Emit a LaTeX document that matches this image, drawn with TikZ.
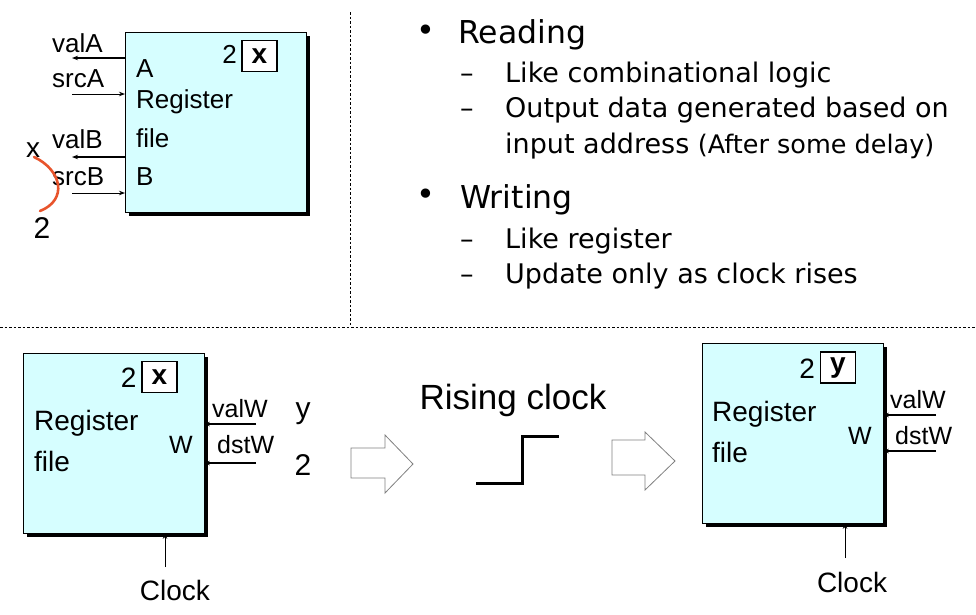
\documentclass[tikz,border=0pt]{standalone}
\usepackage{fontspec}
\setmainfont{Liberation Sans}
\newfontfamily\bulfont{DejaVu Sans}
\usetikzlibrary{arrows.meta,shadows}
\definecolor{regfill}{RGB}{214,254,255}
\definecolor{curvered}{RGB}{232,84,44}
\tikzset{
  regbox/.style={draw=black, line width=0.8pt, fill=regfill, minimum width=181pt, minimum height=180pt,
    anchor=north west, inner sep=0pt, drop shadow={shadow xshift=3.5pt, shadow yshift=-3.5pt, opacity=1, fill=black}},
  valbox/.style={draw=black, line width=1.2pt, fill=white, minimum width=35pt, minimum height=31pt, inner sep=0pt,
    font=\fontsize{28}{30}\selectfont\bfseries},
  lbl/.style={inner sep=0pt, anchor=base west, font=\fontsize{26}{30}\selectfont},
  blbl/.style={inner sep=0pt, anchor=base west, font=\fontsize{28}{32}\selectfont},
  wlbl/.style={inner sep=0pt, anchor=base west, font=\fontsize{25}{30}\selectfont},
  mainitem/.style={inner sep=0pt, anchor=base west, font=\bulfont\fontsize{31.5}{34}\selectfont},
  subitem/.style={inner sep=0pt, anchor=base west, font=\bulfont\fontsize{27}{30}\selectfont},
  bulletmark/.style={inner sep=0pt, font=\bulfont\fontsize{32}{34}\selectfont},
  outarrow/.style={line width=1.8pt, -{Stealth[length=6pt,width=4.5pt]}},
  inarrow/.style={line width=1pt, -{Stealth[length=6pt,width=4.5pt]}},
  wirearrow/.style={-{Stealth[length=5pt,width=4.5pt]}},
  sep/.style={line width=0.8pt, dash pattern=on 2.5pt off 2pt},
  hollow/.style={draw=black!50, line width=0.8pt, fill=white},
}
\begin{document}
\begin{tikzpicture}[x=1pt,y=-1pt]
\useasboundingbox (0,0) rectangle (976,614);

% separators
\draw[sep] (350,12) -- (350,325);
\draw[sep] (0,327) -- (976,327);

% ---------- top-left register file ----------
\node[regbox] (rf1) at (125,32) {};
\node[valbox] (v1) at (259.5,56) {x};
\node[lbl, anchor=base east] (t2a) at (v1.west |- 0,63) {2\,};
\node[lbl] (pA) at (136,77) {A};
\node[lbl] (reg1) at (136,108) {Register};
\node[lbl] (file1) at (136,147) {file};
\node[lbl] (pB) at (136,185) {B};

\coordinate (vaE) at (72,58);
\coordinate (saS) at (72,94);
\coordinate (vbE) at (72,157);
\coordinate (sbS) at (72,193);
\draw[outarrow] (rf1.west |- vaE) -- (vaE);
\draw[inarrow] (saS) -- (rf1.west |- saS);
\draw[outarrow] (rf1.west |- vbE) -- (vbE);
\draw[inarrow] (sbS) -- (rf1.west |- sbS);
\node[lbl] (valA) at (52,52) {valA};
\node[lbl] (srcA) at (52,87) {srcA};
\node[lbl] (valB) at (52,148) {valB};
\node[lbl] (srcB) at (52,185) {srcB};

\node[inner sep=0pt, font=\fontsize{28}{30}\selectfont] (xr) at (33,150) {x};
\node[inner sep=0pt, font=\fontsize{30}{32}\selectfont] (tr) at (42,228) {2};
\draw[curvered, line width=2.6pt, line cap=round] (34,157) .. controls (62,170) and (68,200) .. (40,211);

% ---------- bullet text ----------
\node[bulletmark] (bu1) at (426,33) {•};
\node[mainitem] (reading) at (458,43) {Reading};
\node[subitem] (d1) at (460,82) {–};
\node[subitem] (s1) at (505,82) {Like combinational logic};
\node[subitem] (d2) at (460,117) {–};
\node[subitem] (s2) at (505,117) {Output data generated based on};
\node[subitem] (s3) at (505,153) {input address {\fontsize{25.5}{28}\selectfont(After some delay)}};
\node[bulletmark] (bu2) at (426,197) {•};
\node[mainitem] (writing) at (460,208) {Writing};
\node[subitem] (d3) at (460,248) {–};
\node[subitem] (s4) at (505,248) {Like register};
\node[subitem] (d4) at (460,283) {–};
\node[subitem] (s5) at (505,283) {Update only as clock rises};

% ---------- bottom-left register file ----------
\node[regbox] (rf2) at (23,353) {};
\node[valbox] (v2) at (159.5,377) {x};
\node[blbl, anchor=base east] (t22) at (v2.west |- 0,387) {2\,};
\node[blbl] (reg2) at (34,430) {Register};
\node[blbl] (file2) at (34,471) {file};
\node[wlbl] (w2) at (169,453) {W};
\coordinate (vw2) at (256,424);
\coordinate (dw2) at (256,463);
\draw[wirearrow, line width=1.8pt] (vw2) -- (rf2.east |- vw2);
\draw[wirearrow, line width=1.2pt] (dw2) -- (rf2.east |- dw2);
\node[wlbl] (valW2) at (212,417) {valW};
\node[wlbl] (dstW2) at (217,453) {dstW};
\node[inner sep=0pt, font=\fontsize{30}{32}\selectfont] (ynew) at (303,414) {y};
\node[inner sep=0pt, font=\fontsize{30}{32}\selectfont] (twonew) at (303,465) {2};
\coordinate (ck2) at (165,567);
\draw[wirearrow, line width=1pt] (ck2) -- (rf2.south -| ck2);
\node[blbl, anchor=base] (clk2) at (175,600) {Clock};

% ---------- hollow arrows ----------
\draw[hollow] (351,448) -- (385,448) -- (385,435) -- (413,464) -- (385,493) -- (385,478) -- (351,478) -- cycle;
\draw[hollow] (612,440) -- (645,440) -- (645,432) -- (675,461) -- (645,490) -- (645,475) -- (612,475) -- cycle;

% ---------- rising clock ----------
\node[inner sep=0pt, font=\fontsize{35}{38}\selectfont] (rc) at (513,400) {Rising clock};
\draw[line width=3pt, line cap=rect] (477,483) -- (522,483) -- (522,436) -- (557,436);

% ---------- right register file ----------
\node[regbox] (rf3) at (702,343) {};
\node[valbox] (v3) at (838,367.5) {y};
\node[blbl, anchor=base east] (t23) at (v3.west |- 0,378) {2\,};
\node[blbl] (reg3) at (712,421) {Register};
\node[blbl] (file3) at (712,462) {file};
\node[wlbl] (w3) at (848,444) {W};
\coordinate (vw3) at (936,415);
\coordinate (dw3) at (936,451);
\draw[wirearrow, line width=1.8pt] (vw3) -- (rf3.east |- vw3);
\draw[wirearrow, line width=1.2pt] (dw3) -- (rf3.east |- dw3);
\node[wlbl] (valW3) at (890,408) {valW};
\node[wlbl] (dstW3) at (895,444) {dstW};
\coordinate (ck3) at (845,558);
\draw[wirearrow, line width=1pt] (ck3) -- (rf3.south -| ck3);
\node[blbl, anchor=base] (clk3) at (852,592) {Clock};
\end{tikzpicture}
\end{document}
